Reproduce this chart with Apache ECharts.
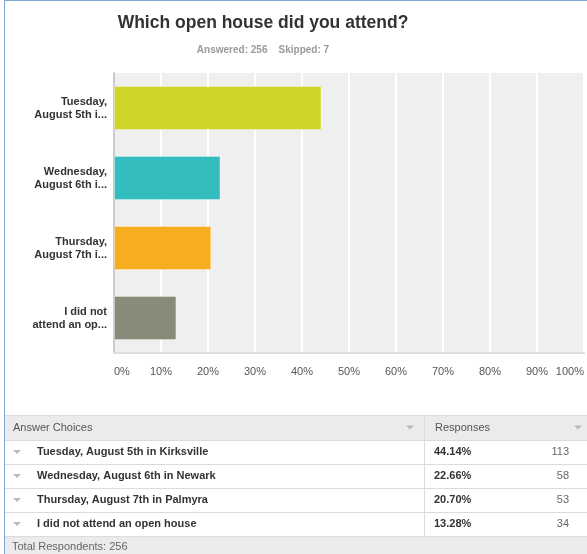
<!DOCTYPE html>
<html>
<head>
<meta charset="utf-8">
<script src="https://cdn.jsdelivr.net/npm/echarts@6/dist/echarts.min.js"></script>
<style>
  html, body { margin: 0; padding: 0; background: #fff; }
  #chart { width: 587px; height: 554px; }
</style>
</head>
<body>
<div id="chart"></div>
<script>
// Survey question results
const questionTitle = 'Which open house did you attend?';
const answeredCount = 256;
const skippedCount = 7;
const axisLabels = ['Tuesday,\nAugust 5th i...', 'Wednesday,\nAugust 6th i...', 'Thursday,\nAugust 7th i...', 'I did not\nattend an op...'];
const answerChoices = ['Tuesday, August 5th in Kirksville', 'Wednesday, August 6th in Newark', 'Thursday, August 7th in Palmyra', 'I did not attend an open house'];
const responsePercents = [44.14, 22.66, 20.70, 13.28];
const responseCounts = [113, 58, 53, 34];
const barColors = ['#cfd62a', '#33bdbe', '#f6ae20', '#8a8a78'];
const totalRespondents = 256;

const FONT = '"Liberation Sans", Arial, sans-serif';

// Response table drawn below the chart
const graphics = [];
const tableLeft = 5, tableRight = 587, colSplit = 424;
const headerTop = 415, headerH = 25, rowH = 24;
const rowsTop = headerTop + headerH;
const footerTop = rowsTop + rowH * answerChoices.length;

function tri(cx, cy) {
  return {
    type: 'polygon',
    shape: { points: [[cx - 4, cy - 2], [cx + 4, cy - 2], [cx, cy + 2]] },
    style: { fill: '#bbbbbb' }
  };
}
function hline(y) {
  return { type: 'line', shape: { x1: tableLeft, y1: y + 0.5, x2: tableRight, y2: y + 0.5 }, style: { stroke: '#dcdcdc', lineWidth: 1 } };
}

// header
graphics.push({ type: 'rect', shape: { x: tableLeft, y: headerTop, width: tableRight - tableLeft, height: headerH }, style: { fill: '#ebebeb' } });
graphics.push({ type: 'text', x: 13, y: headerTop + headerH / 2, style: { text: 'Answer Choices', fill: '#555', font: '11px ' + FONT, verticalAlign: 'middle' } });
graphics.push({ type: 'text', x: 435, y: headerTop + headerH / 2, style: { text: 'Responses', fill: '#555', font: '11px ' + FONT, verticalAlign: 'middle' } });
graphics.push(tri(410, headerTop + headerH / 2));
graphics.push(tri(578, headerTop + headerH / 2));
graphics.push(hline(headerTop));

// rows
answerChoices.forEach(function (choice, i) {
  const cy = rowsTop + i * rowH + rowH / 2;
  graphics.push(hline(rowsTop + i * rowH));
  graphics.push(tri(17, cy));
  graphics.push({ type: 'text', x: 37, y: cy, style: { text: choice, fill: '#333', font: 'bold 11px ' + FONT, verticalAlign: 'middle' } });
  graphics.push({ type: 'text', x: 434, y: cy, style: { text: responsePercents[i].toFixed(2) + '%', fill: '#333', font: 'bold 11px ' + FONT, verticalAlign: 'middle' } });
  graphics.push({ type: 'text', x: 569, y: cy, style: { text: String(responseCounts[i]), fill: '#666', font: '11px ' + FONT, verticalAlign: 'middle', align: 'right' } });
});

// footer
graphics.push({ type: 'rect', shape: { x: tableLeft, y: footerTop, width: tableRight - tableLeft, height: 554 - footerTop }, style: { fill: '#ebebeb' } });
graphics.push(hline(footerTop));
graphics.push({ type: 'text', x: 12, y: footerTop + 11, style: { text: 'Total Respondents: ' + totalRespondents, fill: '#666', font: '11px ' + FONT, verticalAlign: 'middle' } });
// column divider
graphics.push({ type: 'line', shape: { x1: colSplit + 0.5, y1: headerTop, x2: colSplit + 0.5, y2: footerTop }, style: { stroke: '#dcdcdc', lineWidth: 1 } });

// outer frame
graphics.push({ type: 'line', shape: { x1: 4.5, y1: 0, x2: 4.5, y2: 554 }, style: { stroke: '#7ea6d6', lineWidth: 1 } });
graphics.push({ type: 'line', shape: { x1: 4, y1: 0.5, x2: 587, y2: 0.5 }, style: { stroke: '#7ea6d6', lineWidth: 1 } });

const chart = echarts.init(document.getElementById('chart'), null, { renderer: 'canvas' });
chart.setOption({
  animation: false,
  backgroundColor: '#fff',
  title: [{
    text: questionTitle,
    left: 258, top: 9, textAlign: 'center',
    textStyle: { fontFamily: FONT, fontSize: 17.5, fontWeight: 'bold', color: '#333' }
  }, {
    text: 'Answered: ' + answeredCount + '    Skipped: ' + skippedCount,
    left: 258, top: 40, textAlign: 'center',
    textStyle: { fontFamily: FONT, fontSize: 10, fontWeight: 'bold', color: '#999' }
  }],
  grid: {
    left: 114, top: 73, width: 476, height: 280,
    show: true, backgroundColor: '#efefef', borderWidth: 0
  },
  xAxis: {
    type: 'value', min: 0, max: 100, interval: 10,
    axisLine: { show: true, lineStyle: { color: '#dddddd', width: 2 } },
    axisTick: { show: false },
    splitLine: { show: true, lineStyle: { color: '#ffffff', width: 2 } },
    axisLabel: {
      formatter: '{value}%', margin: 13, color: '#555',
      fontFamily: FONT, fontSize: 11,
      alignMinLabel: 'left', alignMaxLabel: 'right'
    }
  },
  yAxis: {
    type: 'category', inverse: true, data: axisLabels,
    axisLine: { show: true, lineStyle: { color: '#cccccc', width: 2 } },
    axisTick: { show: false },
    axisLabel: {
      margin: 7, color: '#333', fontFamily: FONT, fontSize: 11,
      fontWeight: 'bold', lineHeight: 13, align: 'right'
    }
  },
  series: [{
    type: 'bar',
    barCategoryGap: '37%',
    data: responsePercents.map(function (v, i) {
      return { value: v, itemStyle: { color: barColors[i], borderColor: 'rgba(255,255,255,0.35)', borderWidth: 1 } };
    })
  }],
  graphic: graphics
});
</script>
</body>
</html>
